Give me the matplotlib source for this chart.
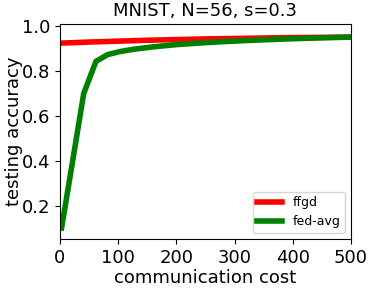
import numpy as np
import matplotlib.pyplot as plt

# data
cost_ffgd = [0, 50, 100, 150, 200, 250, 300, 350, 400, 450, 500]
acc_ffgd = [0.924, 0.929, 0.933, 0.937, 0.940, 0.943, 0.945, 0.947, 0.949, 0.950, 0.951]

cost_fedavg = [3, 22, 41, 62, 82, 102, 122, 142, 162, 182, 202, 242, 282, 322, 362, 402, 442, 500]
acc_fedavg = [0.102, 0.40, 0.700, 0.843, 0.873, 0.886, 0.895, 0.902, 0.908, 0.913, 0.918,
              0.925, 0.931, 0.936, 0.940, 0.944, 0.947, 0.951]
band_fedavg = [0.005, 0.02, 0.015, 0.006, 0.004, 0.003, 0.003, 0.002, 0.002, 0.002, 0.002,
               0.002, 0.002, 0.002, 0.002, 0.002, 0.002, 0.002]

fig, ax = plt.subplots(figsize=(3.74, 2.9), dpi=100)

ax.plot(cost_ffgd, acc_ffgd, color='red', linewidth=4, label='ffgd')
ax.plot(cost_fedavg, acc_fedavg, color='green', linewidth=4, label='fed-avg')
lo = np.array(acc_fedavg) - np.array(band_fedavg)
hi = np.array(acc_fedavg) + np.array(band_fedavg)
ax.fill_between(cost_fedavg, lo, hi, color='green', alpha=0.2, edgecolor=None)

ax.set_xlim(0, 500)
ax.set_ylim(0.053, 1.009)
ax.set_xticks([0, 100, 200, 300, 400, 500])
ax.set_yticks([0.2, 0.4, 0.6, 0.8, 1.0])
ax.tick_params(labelsize=13)

ax.set_title('MNIST, N=56, s=0.3', fontsize=13)
ax.set_xlabel('communication cost', fontsize=13, labelpad=2)
ax.set_ylabel('testing accuracy', fontsize=13, labelpad=-1)
ax.legend(loc='lower right', fontsize=9, borderpad=0.35)

plt.subplots_adjust(left=0.16, right=0.9385, top=0.917, bottom=0.176)
plt.savefig('out.png')
